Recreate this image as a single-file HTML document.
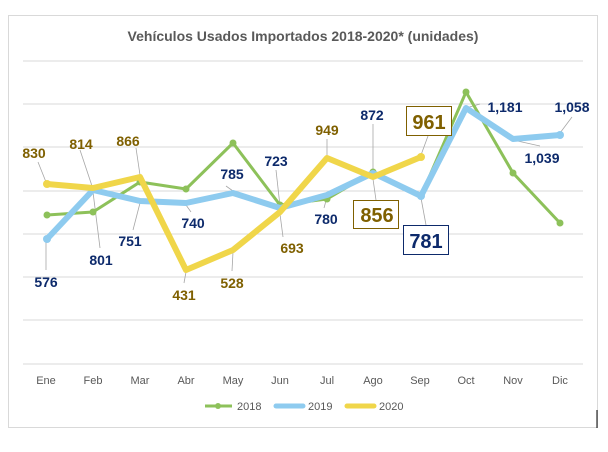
<!DOCTYPE html>
<html><head><meta charset="utf-8"><style>
html,body{margin:0;padding:0;background:#fff;}
svg{display:block;font-family:"Liberation Sans",sans-serif;}
</style></head><body>
<svg width="608" height="452" viewBox="0 0 608 452">
<rect x="8.5" y="15.5" width="589" height="412" fill="#fff" stroke="#d9d9d9"/>
<line x1="597" y1="410" x2="597" y2="428" stroke="#000" stroke-width="1"/>
<text x="303" y="41" text-anchor="middle" font-size="14" font-weight="bold" fill="#595959">Vehículos Usados Importados 2018-2020* (unidades)</text>
<g stroke="#d9d9d9" stroke-width="1">
<line x1="23" y1="61" x2="583" y2="61"/><line x1="23" y1="104" x2="583" y2="104"/>
<line x1="23" y1="147" x2="583" y2="147"/><line x1="23" y1="191" x2="583" y2="191"/>
<line x1="23" y1="234" x2="583" y2="234"/><line x1="23" y1="277" x2="583" y2="277"/>
<line x1="23" y1="320" x2="583" y2="320"/><line x1="23" y1="364" x2="583" y2="364"/>
</g>
<g font-size="11" fill="#595959" text-anchor="middle">
<text x="46" y="384">Ene</text><text x="93" y="384">Feb</text><text x="140" y="384">Mar</text><text x="186" y="384">Abr</text><text x="233" y="384">May</text><text x="280" y="384">Jun</text><text x="327" y="384">Jul</text><text x="373" y="384">Ago</text><text x="420" y="384">Sep</text><text x="466" y="384">Oct</text><text x="513" y="384">Nov</text><text x="560" y="384">Dic</text>
</g>
<!-- leader lines -->
<g stroke="#a6a6a6" stroke-width="0.8" fill="none">
<line x1="38" y1="162" x2="46" y2="182"/><line x1="80" y1="150" x2="92" y2="186"/><line x1="136" y1="148" x2="140" y2="175"/>
<line x1="46" y1="241" x2="46" y2="270"/><line x1="93" y1="192" x2="100" y2="248"/><line x1="140" y1="203" x2="133" y2="230"/>
<line x1="186" y1="205" x2="191" y2="212"/><line x1="186" y1="272" x2="184" y2="283"/><line x1="226" y1="186" x2="233" y2="191"/>
<line x1="233" y1="252" x2="232" y2="271"/><line x1="276" y1="170" x2="280" y2="206"/><line x1="280" y1="214" x2="283" y2="237"/>
<line x1="327" y1="139" x2="327" y2="156"/><line x1="327" y1="197" x2="324" y2="208"/><line x1="373" y1="124" x2="373" y2="175"/>
<line x1="373" y1="179" x2="376" y2="200"/><line x1="421" y1="155" x2="428" y2="136"/><line x1="421" y1="198" x2="426" y2="225"/>
<line x1="466" y1="108" x2="480" y2="104"/><line x1="513" y1="140" x2="540" y2="146"/><line x1="560" y1="133" x2="572" y2="117"/>
</g>
<!-- series -->
<polyline fill="none" stroke="#8dc15a" stroke-width="3" stroke-linejoin="round" points="47,215 93,212 140,182 186,189 233,143 280,205 327,199 373,172 421,196 466,92 513,173 560,223"/>
<g fill="#8dc15a"><circle cx="47" cy="215" r="3.5"/><circle cx="93" cy="212" r="3.5"/><circle cx="140" cy="182" r="3.5"/><circle cx="186" cy="189" r="3.5"/><circle cx="233" cy="143" r="3.5"/><circle cx="280" cy="205" r="3.5"/><circle cx="327" cy="199" r="3.5"/><circle cx="373" cy="172" r="3.5"/><circle cx="466" cy="92" r="3.5"/><circle cx="513" cy="173" r="3.5"/><circle cx="560" cy="223" r="3.5"/></g>
<polyline fill="none" stroke="#8ecbef" stroke-width="6" stroke-linejoin="round" points="47,239 93,190 140,201 186,203 233,193 280,208 327,195 373,173 421,196 466,108 513,139 560,135"/>
<g fill="#8ecbef"><circle cx="47" cy="239" r="4"/><circle cx="421" cy="196" r="4"/><circle cx="560" cy="135" r="4"/></g>
<polyline fill="none" stroke="#f0d64a" stroke-width="6" stroke-linejoin="round" points="47,184 93,188 140,177 186,270 233,250 280,212 327,158 373,177 421,157"/>
<g fill="#f0d64a"><circle cx="47" cy="184" r="4"/><circle cx="421" cy="157" r="4"/></g>
<!-- labels -->
<g font-size="14" font-weight="bold" text-anchor="middle">
<g fill="#7f6000">
<text x="34" y="158">830</text><text x="81" y="149">814</text><text x="128" y="146">866</text><text x="184" y="300">431</text><text x="232" y="288">528</text><text x="292" y="253">693</text><text x="327" y="135">949</text>
</g>
<g fill="#0d2a6b">
<text x="46" y="287">576</text><text x="101" y="265">801</text><text x="130" y="246">751</text><text x="193" y="228">740</text><text x="232" y="179">785</text><text x="276" y="166">723</text><text x="326" y="224">780</text><text x="372" y="120">872</text><text x="505" y="112">1,181</text><text x="542" y="163">1,039</text><text x="572" y="112">1,058</text>
</g>
</g>
<rect x="353.5" y="200.5" width="45" height="28" fill="#fff" stroke="#7f6000"/>
<text x="377" y="222" font-size="20" font-weight="bold" fill="#7f6000" text-anchor="middle">856</text>
<rect x="406.5" y="106.5" width="45" height="29" fill="#fff" stroke="#7f6000"/>
<text x="429" y="129" font-size="20" font-weight="bold" fill="#7f6000" text-anchor="middle">961</text>
<rect x="403.5" y="225.5" width="45" height="29" fill="#fff" stroke="#0d2a6b"/>
<text x="426" y="248" font-size="20" font-weight="bold" fill="#0d2a6b" text-anchor="middle">781</text>
<!-- legend -->
<g font-size="11" fill="#595959">
<line x1="205" y1="406" x2="232" y2="406" stroke="#8dc15a" stroke-width="3"/><circle cx="218" cy="406" r="3" fill="#8dc15a"/>
<text x="237" y="410">2018</text>
<line x1="276" y1="406" x2="303" y2="406" stroke="#8ecbef" stroke-width="5" stroke-linecap="round"/>
<text x="308" y="410">2019</text>
<line x1="347" y1="406" x2="374" y2="406" stroke="#f0d64a" stroke-width="5" stroke-linecap="round"/>
<text x="379" y="410">2020</text>
</g>
</svg>
</body></html>
